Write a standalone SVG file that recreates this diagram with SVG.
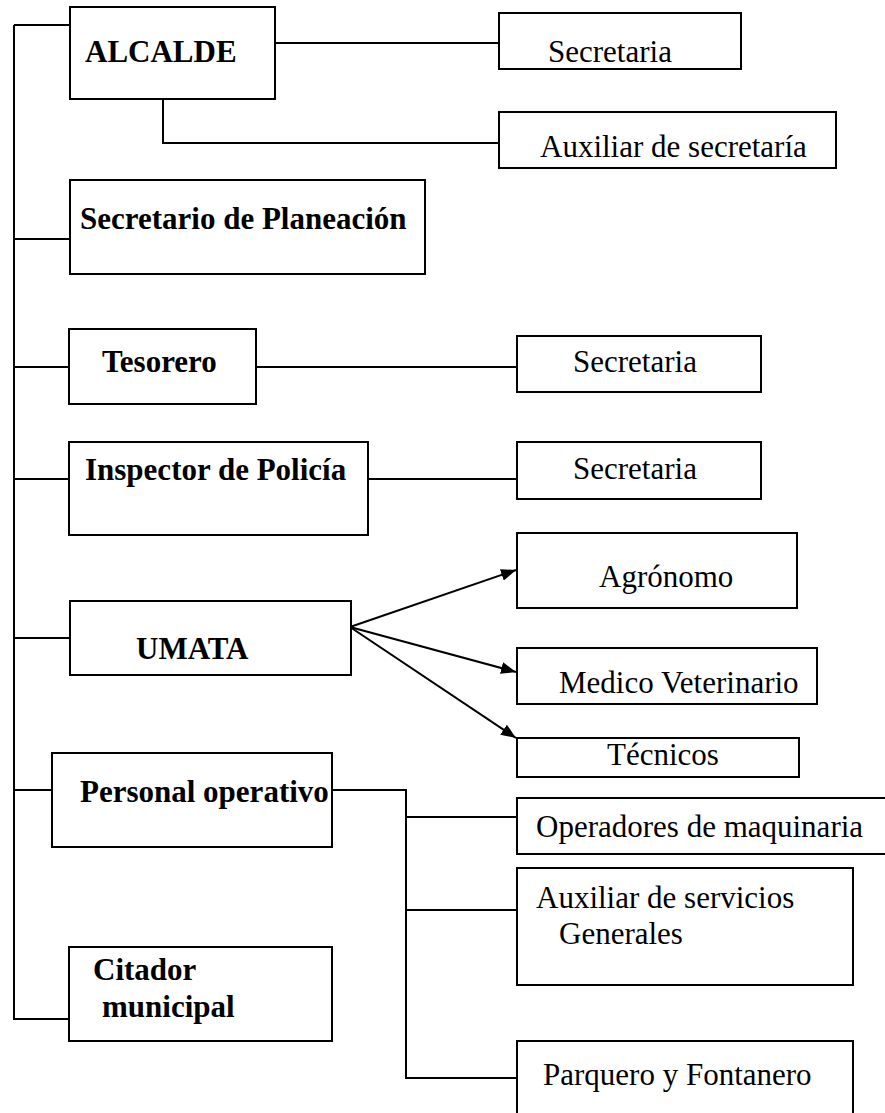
<svg xmlns="http://www.w3.org/2000/svg" width="885" height="1113" viewBox="0 0 885 1113">
<style>
.box{fill:#fff;stroke:#000;stroke-width:2}
.ln{fill:none;stroke:#000;stroke-width:2}
.b{font-family:"Liberation Serif","Times New Roman",serif;font-weight:bold;font-size:31px;fill:#000}
.r{font-family:"Liberation Serif","Times New Roman",serif;font-size:31px;fill:#000}
</style>
<defs>
<marker id="ah" markerUnits="userSpaceOnUse" markerWidth="16" markerHeight="12" refX="15" refY="6" orient="auto">
<path d="M0,0 L15,6 L0,12 z" fill="#000"/>
</marker>
</defs>
<rect width="885" height="1113" fill="#fff"/>
<g id="connectors">
<line class="ln" x1="14" y1="25" x2="14" y2="1019"/>
<line class="ln" x1="14" y1="25" x2="70" y2="25"/>
<line class="ln" x1="14" y1="239" x2="70" y2="239"/>
<line class="ln" x1="14" y1="367" x2="69" y2="367"/>
<line class="ln" x1="14" y1="479" x2="69" y2="479"/>
<line class="ln" x1="14" y1="638" x2="70" y2="638"/>
<line class="ln" x1="14" y1="790" x2="52" y2="790"/>
<line class="ln" x1="13" y1="1019" x2="69" y2="1019"/>
<line class="ln" x1="257" y1="43" x2="499" y2="43"/>
<polyline class="ln" points="163,99 163,143 499,143"/>
<line class="ln" x1="256" y1="367" x2="517" y2="367"/>
<line class="ln" x1="368" y1="479" x2="517" y2="479"/>
<line class="ln" x1="350" y1="627" x2="516" y2="570" marker-end="url(#ah)"/>
<line class="ln" x1="350" y1="627" x2="516" y2="672" marker-end="url(#ah)"/>
<line class="ln" x1="350" y1="627" x2="516" y2="738" marker-end="url(#ah)"/>
<polyline class="ln" points="332,790 406,790 406,1078 517,1078"/>
<line class="ln" x1="406" y1="817" x2="517" y2="817"/>
<line class="ln" x1="406" y1="910" x2="517" y2="910"/>
</g>
<g id="alcalde"><rect class="box" x="70" y="7" width="205" height="92"/><text class="b" x="85" y="62">ALCALDE</text></g>
<g id="secretaria1"><rect class="box" x="499" y="13" width="242" height="56"/><text class="r" x="548" y="62">Secretaria</text></g>
<g id="auxiliar-secretaria"><rect class="box" x="499" y="112" width="337" height="56"/><text class="r" x="540" y="157">Auxiliar de secretaría</text></g>
<g id="planeacion"><rect class="box" x="70" y="180" width="355" height="94"/><text class="b" x="80" y="229">Secretario de Planeación</text></g>
<g id="tesorero"><rect class="box" x="69" y="329" width="187" height="75"/><text class="b" x="102" y="372">Tesorero</text></g>
<g id="secretaria2"><rect class="box" x="517" y="336" width="244" height="56"/><text class="r" x="573" y="372">Secretaria</text></g>
<g id="inspector"><rect class="box" x="69" y="442" width="299" height="93"/><text class="b" x="85" y="480">Inspector de Policía</text></g>
<g id="secretaria3"><rect class="box" x="517" y="442" width="244" height="57"/><text class="r" x="573" y="479">Secretaria</text></g>
<g id="umata"><rect class="box" x="70" y="601" width="281" height="74"/><text class="b" x="136" y="659">UMATA</text></g>
<g id="agronomo"><rect class="box" x="517" y="533" width="280" height="75"/><text class="r" x="599" y="587">Agrónomo</text></g>
<g id="medico"><rect class="box" x="517" y="648" width="300" height="56"/><text class="r" x="559" y="693">Medico Veterinario</text></g>
<g id="tecnicos"><rect class="box" x="517" y="738" width="282" height="39"/><text class="r" x="607" y="765">Técnicos</text></g>
<g id="personal"><rect class="box" x="52" y="753" width="280" height="94"/><text class="b" x="80" y="802">Personal operativo</text></g>
<g id="citador"><rect class="box" x="69" y="947" width="263" height="94"/><text class="b" x="93" y="980">Citador</text><text class="b" x="102" y="1017">municipal</text></g>
<g id="operadores"><rect class="box" x="517" y="798" width="380" height="56"/><text class="r" x="536" y="837">Operadores de maquinaria</text></g>
<g id="servicios"><rect class="box" x="517" y="868" width="336" height="117"/><text class="r" x="536" y="908">Auxiliar de servicios</text><text class="r" x="559" y="944">Generales</text></g>
<g id="parquero"><rect class="box" x="517" y="1041" width="336" height="90"/><text class="r" x="543" y="1085">Parquero y Fontanero</text></g>
</svg>
